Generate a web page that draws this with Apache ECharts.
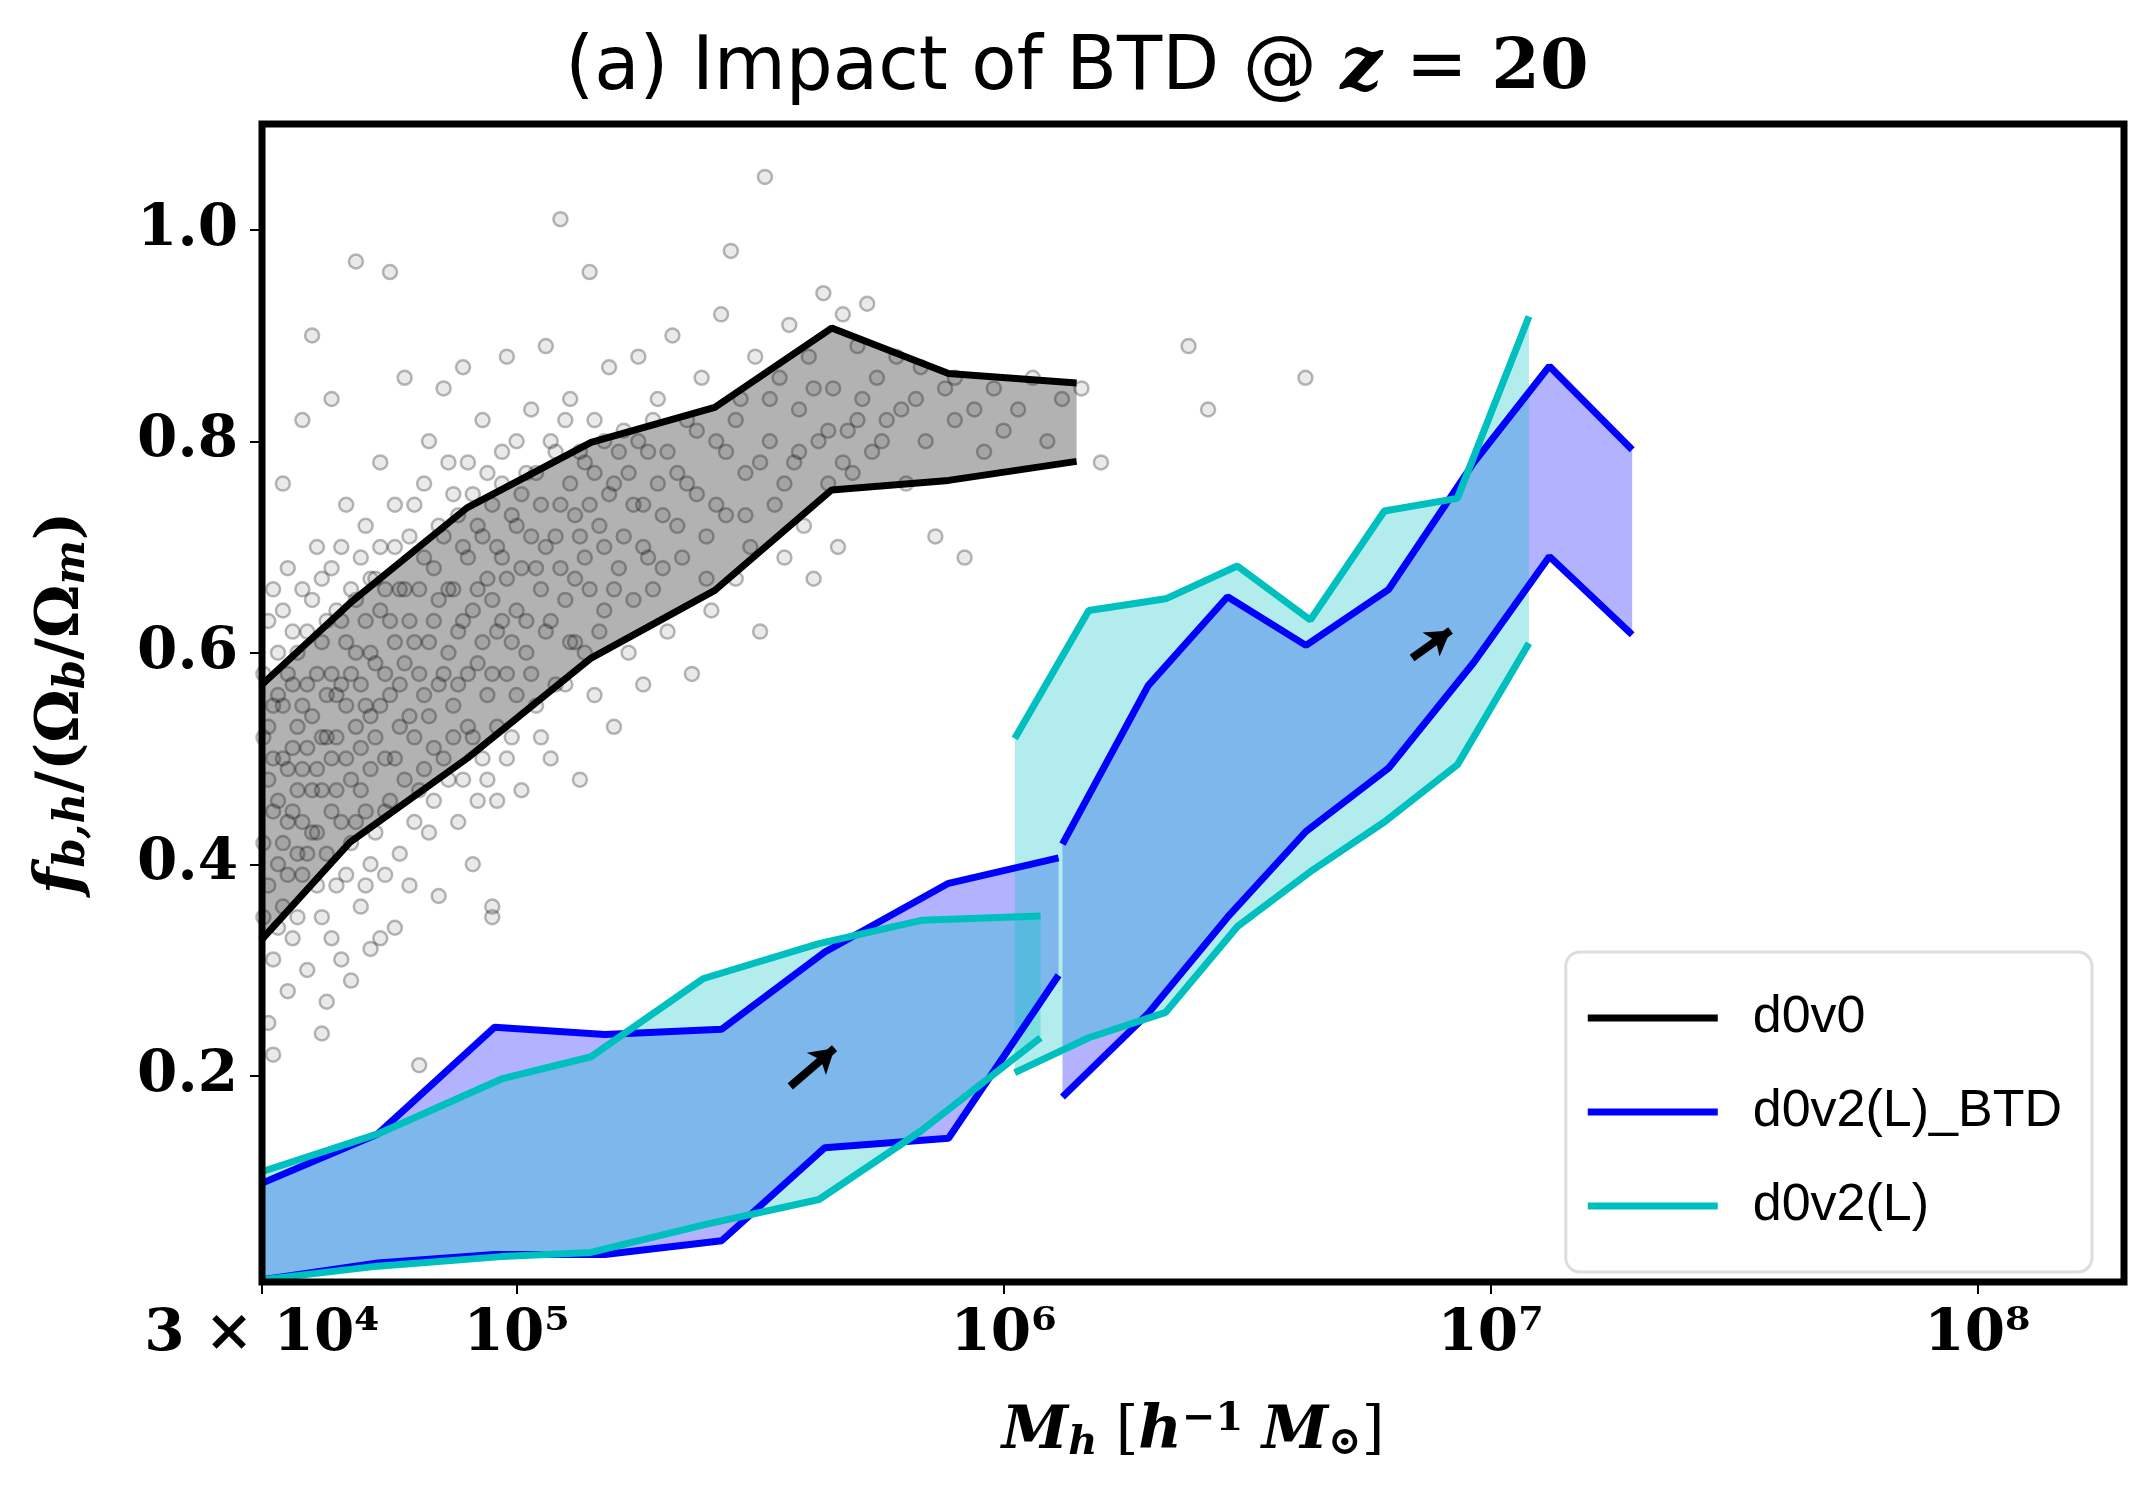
<!DOCTYPE html>
<html><head><meta charset="utf-8">
<script src="https://cdn.jsdelivr.net/npm/echarts@6/dist/echarts.min.js"></script>
<style>html,body{margin:0;padding:0;background:#fff}#c{width:2154px;height:1505px}</style>
</head><body><div id="c"></div>
<script>
// log10(M) values
const blackX = [4.475,4.658,4.898,5.153,5.407,5.647,5.887,6.150];
const blackUp = [0.569,0.647,0.737,0.799,0.832,0.907,0.864,0.855];
const blackLo = [0.328,0.421,0.500,0.595,0.659,0.754,0.763,0.781];
const blue1X = [4.475,4.715,4.955,5.181,5.421,5.633,5.887,6.113];
const blue1Up = [0.098,0.145,0.246,0.239,0.244,0.317,0.382,0.406];
const blue1Lo = [0.007,0.023,0.031,0.031,0.044,0.132,0.141,0.295];
const blue2X = [6.121,6.297,6.460,6.621,6.791,6.966,7.121,7.291];
const blue2Up = [0.419,0.569,0.653,0.607,0.660,0.780,0.871,0.792];
const blue2Lo = [0.180,0.259,0.350,0.431,0.491,0.591,0.691,0.617];
const cyan1X = [4.475,4.715,4.969,5.153,5.384,5.621,5.831,6.076];
const cyan1Up = [0.109,0.145,0.197,0.218,0.292,0.325,0.347,0.351];
const cyan1Lo = [0.007,0.020,0.029,0.033,0.059,0.083,0.148,0.236];
const cyan2X = [6.023,6.175,6.333,6.480,6.630,6.782,6.932,7.079];
const cyan2Up = [0.519,0.640,0.651,0.682,0.631,0.734,0.746,0.918];
const cyan2Lo = [0.203,0.236,0.260,0.341,0.393,0.440,0.494,0.609];
const scatterPts = [
[4.48,0.52],[4.49,0.48],[4.50,0.45],[4.50,0.55],[4.51,0.40],[4.51,0.60],[4.52,0.36],[4.52,0.50],[4.53,0.44],[4.53,0.58],
[4.54,0.33],[4.54,0.62],[4.55,0.47],[4.55,0.53],[4.56,0.39],[4.56,0.66],[4.57,0.30],[4.57,0.57],[4.58,0.43],[4.58,0.90],
[4.59,0.49],[4.59,0.70],[4.60,0.35],[4.60,0.61],[4.61,0.52],[4.61,0.27],[4.62,0.45],[4.62,0.68],[4.63,0.38],[4.63,0.56],
[4.64,0.63],[4.64,0.31],[4.65,0.50],[4.65,0.74],[4.66,0.42],[4.66,0.58],[4.67,0.97],[4.67,0.65],[4.68,0.47],[4.68,0.36],
[4.69,0.55],[4.69,0.72],[4.70,0.60],[4.70,0.40],[4.71,0.67],[4.71,0.52],[4.72,0.33],[4.72,0.78],[4.73,0.58],[4.73,0.45],
[4.74,0.96],[4.74,0.63],[4.75,0.50],[4.75,0.70],[4.76,0.41],[4.76,0.57],[4.77,0.66],[4.77,0.86],[4.78,0.54],[4.78,0.38],
[4.79,0.61],[4.79,0.74],[4.80,0.47],[4.80,0.21],[4.81,0.69],[4.81,0.56],[4.82,0.43],[4.82,0.80],[4.83,0.63],[4.83,0.51],
[4.84,0.72],[4.84,0.37],[4.85,0.58],[4.85,0.85],[4.86,0.66],[4.86,0.48],[4.87,0.75],[4.87,0.55],[4.88,0.62],[4.88,0.44],
[4.89,0.70],[4.89,0.87],[4.90,0.53],[4.90,0.78],[4.91,0.64],[4.91,0.40],[4.92,0.59],[4.92,0.72],[4.93,0.50],[4.93,0.82],
[4.94,0.67],[4.94,0.56],[4.95,0.36],[4.95,0.74],[4.96,0.62],[4.96,0.46],[4.97,0.79],[4.97,0.69],[4.98,0.58],[4.98,0.88],
[4.99,0.52],[5.00,0.72],[5.00,0.64],[5.01,0.47],[5.02,0.77],[5.02,0.60],[5.03,0.83],[5.04,0.68],[5.04,0.55],[5.05,0.74],
[5.06,0.62],[5.06,0.89],[5.07,0.50],[5.08,0.71],[5.08,0.79],[5.09,1.01],[5.10,0.65],[5.10,0.57],[5.11,0.84],[5.12,0.73],
[5.12,0.61],[5.13,0.48],[5.14,0.78],[5.14,0.69],[5.15,0.96],[5.16,0.56],[5.16,0.82],[5.17,0.72],[5.18,0.64],[5.19,0.87],
[5.20,0.76],[5.20,0.53],[5.21,0.68],[5.22,0.81],[5.23,0.60],[5.24,0.74],[5.25,0.88],[5.26,0.70],[5.26,0.57],[5.27,0.79],
[5.28,0.66],[5.29,0.84],[5.30,0.73],[5.31,0.62],[5.32,0.90],[5.33,0.77],[5.34,0.69],[5.35,0.82],[5.36,0.58],[5.37,0.75],
[5.38,0.86],[5.39,0.71],[5.40,0.64],[5.41,0.80],[5.42,0.92],[5.43,0.73],[5.44,0.98],[5.45,0.67],[5.46,0.84],[5.47,0.77],
[5.48,0.70],[5.49,0.88],[5.50,0.62],[5.51,1.05],[5.52,0.80],[5.53,0.74],[5.54,0.86],[5.55,0.69],[5.56,0.91],[5.57,0.78],
[5.58,0.83],[5.59,0.72],[5.60,0.88],[5.61,0.67],[5.62,0.80],[5.63,0.94],[5.64,0.76],[5.65,0.85],[5.66,0.70],[5.67,0.92],
[5.68,0.81],[5.69,0.77],[5.70,0.89],[5.71,0.84],[5.72,0.93],[5.73,0.79],[5.74,0.86],[5.76,0.82],[5.78,0.88],[5.80,0.76],
[5.82,0.84],[5.84,0.80],[5.86,0.71],[5.88,0.85],[5.90,0.82],[5.92,0.69],[5.94,0.83],[5.96,0.79],[5.98,0.85],[6.00,0.81],
[6.03,0.83],[6.06,0.86],[6.09,0.80],[6.12,0.84],[6.16,0.85],[6.20,0.78],[6.38,0.89],[6.42,0.83],[6.62,0.86],[4.95,0.35],
[4.50,0.22],[4.49,0.25],[4.53,0.28],[4.60,0.24],[4.66,0.29],[4.70,0.32],[4.75,0.34],[4.62,0.84],[4.56,0.82],[4.52,0.76],
[4.48,0.42],[4.48,0.58],[4.48,0.35],[4.49,0.63],[4.49,0.38],[4.49,0.53],[4.50,0.31],[4.50,0.66],[4.50,0.50],[4.51,0.46],
[4.51,0.56],[4.51,0.34],[4.52,0.42],[4.52,0.64],[4.52,0.55],[4.53,0.49],[4.53,0.39],[4.53,0.68],[4.54,0.51],[4.54,0.45],
[4.54,0.57],[4.55,0.41],[4.55,0.60],[4.55,0.35],[4.56,0.49],[4.56,0.55],[4.56,0.44],[4.57,0.62],[4.57,0.51],[4.57,0.41],
[4.58,0.54],[4.58,0.47],[4.58,0.65],[4.59,0.38],[4.59,0.58],[4.59,0.43],[4.60,0.52],[4.60,0.47],[4.60,0.67],[4.61,0.56],
[4.61,0.41],[4.61,0.63],[4.62,0.50],[4.62,0.58],[4.62,0.33],[4.63,0.47],[4.63,0.64],[4.63,0.52],[4.64,0.44],[4.64,0.57],
[4.64,0.70],[4.65,0.39],[4.65,0.61],[4.65,0.55],[4.66,0.48],[4.66,0.66],[4.67,0.53],[4.67,0.44],[4.67,0.60],[4.68,0.69],
[4.68,0.57],[4.68,0.51],[4.69,0.45],[4.69,0.63],[4.69,0.38],[4.70,0.54],[4.70,0.67],[4.70,0.49],[4.71,0.59],[4.71,0.43],
[4.72,0.64],[4.72,0.55],[4.72,0.70],[4.73,0.50],[4.73,0.66],[4.73,0.39],[4.74,0.56],[4.74,0.46],[4.75,0.61],[4.75,0.74],
[4.76,0.53],[4.76,0.66],[4.77,0.48],[4.77,0.59],[4.78,0.71],[4.78,0.63],[4.79,0.52],[4.79,0.44],[4.80,0.66],[4.80,0.58],
[4.81,0.49],[4.81,0.76],[4.82,0.61],[4.82,0.54],[4.83,0.68],[4.83,0.46],[4.84,0.57],[4.84,0.65],[4.85,0.50],[4.85,0.71],
[4.86,0.60],[4.86,0.78],[4.87,0.52],[4.87,0.66],[4.88,0.57],[4.88,0.73],[4.89,0.48],[4.89,0.63],[4.90,0.69],[4.90,0.58],
[4.91,0.75],[4.91,0.52],[4.92,0.66],[4.92,0.46],[4.93,0.61],[4.93,0.71],[4.94,0.77],[4.94,0.48],[4.95,0.65],[4.95,0.58],
[4.96,0.70],[4.96,0.53],[4.97,0.63],[4.97,0.76],[4.98,0.67],[4.98,0.50],[4.99,0.73],[4.99,0.61],[5.00,0.56],[5.00,0.80],
[5.01,0.68],[5.01,0.75],[5.02,0.63],[5.03,0.71],[5.03,0.58],[5.04,0.77],[5.05,0.66],[5.05,0.52],[5.06,0.70],[5.07,0.80],
[5.07,0.63],[5.08,0.57],[5.09,0.74],[5.09,0.68],[5.10,0.82],[5.11,0.61],[5.11,0.76],[5.12,0.67],[5.13,0.79],[5.13,0.71],
[5.14,0.60],[5.15,0.74],[5.15,0.66],[5.16,0.77],[5.17,0.62],[5.18,0.80],[5.18,0.70],[5.19,0.75],[5.20,0.66],[5.21,0.79],
[5.22,0.71],[5.23,0.77],[5.24,0.65],[5.25,0.80],[5.26,0.74],[5.27,0.69],[5.28,0.82],[5.29,0.76],[5.30,0.68],[5.31,0.79],
[5.33,0.72],[5.35,0.76],[5.37,0.81],[5.39,0.67],[5.41,0.74],[5.43,0.79],[5.45,0.82],[5.47,0.73],[5.50,0.78],[5.52,0.84],
[5.55,0.76],[5.58,0.79],[5.61,0.85],[5.64,0.81],[5.67,0.78],[5.70,0.82],[5.75,0.80],[5.79,0.83],[5.83,0.87],[5.90,0.86]
];
const arrows = [[[5.562,0.190],[5.653,0.226]],[[6.839,0.595],[6.918,0.621]]];
const xTicks = [3e4,1e5,1e6,1e7,1e8];
const yTicks = [0.2,0.4,0.6,0.8,1.0];

const pw = v => Math.pow(10, v);
const pairs = (xs, ys) => xs.map((x,i)=>[pw(x), ys[i]]);
function band(name, xs, up, lo, color, z) {
  const d = xs.map((x,i)=>[pw(x), up[i], lo[i]]);
  return {type:'custom', name: name+'_band', data:d, z:z, silent:true,
    encode:{x:0,y:[1,2]},
    renderItem:(params, api)=>{
      if (params.dataIndex !== 0) return;
      const pts = [];
      d.forEach(r=>pts.push(api.coord([r[0], r[1]])));
      for (let i=d.length-1;i>=0;i--) pts.push(api.coord([d[i][0], d[i][2]]));
      return {type:'polygon', shape:{points:pts}, style:{fill:color}};
    }};
}
function line(name, xs, ys, color, z) {
  return {type:'line', name:name, data:pairs(xs,ys), showSymbol:false, symbol:'none', z:z,
    lineStyle:{color:color, width:7}, itemStyle:{color:color}};
}
const sup = {'4':'⁴','5':'⁵','6':'⁶','7':'⁷','8':'⁸'};
const chart = echarts.init(document.getElementById('c'));
const serif = 'DejaVu Serif';
chart.setOption({
  animation:false,
  title:{text:'(a) Impact of BTD @ {i|z} = {b|20}', left:'center', top:28,
    textStyle:{fontFamily:'DejaVu Sans', fontSize:74, fontWeight:'normal', color:'#000',
      rich:{i:{fontFamily:serif, fontStyle:'italic', fontWeight:'bold', fontSize:74},
            b:{fontFamily:serif, fontWeight:'bold', fontSize:70}}}},
  grid:{left:262, right:30, top:124, bottom:223, show:true, borderColor:'#000', borderWidth:7, backgroundColor:'transparent', z:10},
  legend:{right:62, top:952, orient:'vertical', itemWidth:130, itemHeight:7, itemGap:42,
    padding:[40,30,40,22], backgroundColor:'#fff', borderColor:'#ddd', borderWidth:3, borderRadius:14,
    data:[{name:'d0v0',icon:'rect'},{name:'d0v2(L)_BTD',icon:'rect'},{name:'d0v2(L)',icon:'rect'}],
    textStyle:{fontFamily:'Liberation Sans', fontSize:52, color:'#000', padding:[0,0,0,30]}},
  xAxis:{type:'log', logBase:10, min:3e4, max:2e8,
    name:'{i|M}{s|h} [{i|h}{p|−1} {i|M}{s|⊙}]', nameLocation:'middle', nameGap:118,
    nameTextStyle:{fontFamily:serif, fontSize:58, color:'#000',
      rich:{i:{fontFamily:serif, fontStyle:'italic', fontWeight:'bold', fontSize:60},
            s:{fontFamily:serif, fontStyle:'italic', fontWeight:'bold', fontSize:40, verticalAlign:'bottom', padding:[22,0,0,0]},
            p:{fontFamily:serif, fontWeight:'bold', fontSize:40, verticalAlign:'top', padding:[0,0,24,0]}}},
    axisLine:{show:false}, splitLine:{show:false},
    axisTick:{show:true, length:12, lineStyle:{width:2,color:'#000'}, customValues:xTicks},
    minorTick:{show:false},
    axisLabel:{customValues:xTicks, margin:24, color:'#000', fontFamily:serif, fontWeight:'bold', fontSize:58,
      formatter:v=>{ if (Math.abs(v-3e4)<1) return '3 × 10⁴'; const e=Math.round(Math.log10(v)); return '10'+sup[e]; }}},
  yAxis:{type:'value', min:0.005, max:1.1,
    name:'{i|f}{s|b,h}/(Ω{s|b}/Ω{s|m})', nameLocation:'middle', nameGap:168, nameRotate:90,
    nameTextStyle:{fontFamily:serif, fontSize:60, fontWeight:'bold', color:'#000',
      rich:{i:{fontFamily:serif, fontStyle:'italic', fontWeight:'bold', fontSize:62},
            s:{fontFamily:serif, fontStyle:'italic', fontWeight:'bold', fontSize:42, verticalAlign:'bottom', padding:[22,0,0,0]}}},
    axisLine:{show:false}, splitLine:{show:false},
    axisTick:{show:true, length:12, lineStyle:{width:2,color:'#000'}, customValues:yTicks},
    axisLabel:{customValues:yTicks, margin:24, color:'#000', fontFamily:serif, fontWeight:'bold', fontSize:58,
      formatter:v=>v.toFixed(1)}},
  series:[
    {type:'scatter', name:'pts', data:scatterPts.map(p=>[pw(p[0]),p[1]]), symbolSize:14, z:1,
      itemStyle:{color:'rgba(0,0,0,0.1)', borderColor:'rgba(0,0,0,0.35)', borderWidth:2.5}},
    band('d0v0', blackX, blackUp, blackLo, 'rgba(0,0,0,0.3)', 2),
    band('b1', blue1X, blue1Up, blue1Lo, 'rgba(0,0,255,0.3)', 2),
    band('b2', blue2X, blue2Up, blue2Lo, 'rgba(0,0,255,0.3)', 2),
    band('c1', cyan1X, cyan1Up, cyan1Lo, 'rgba(0,191,191,0.3)', 3),
    band('c2', cyan2X, cyan2Up, cyan2Lo, 'rgba(0,191,191,0.3)', 3),
    line('d0v0', blackX, blackUp, '#000', 5), line('d0v0', blackX, blackLo, '#000', 5),
    line('d0v2(L)_BTD', blue1X, blue1Up, '#0000ff', 5), line('d0v2(L)_BTD', blue1X, blue1Lo, '#0000ff', 5),
    line('d0v2(L)_BTD', blue2X, blue2Up, '#0000ff', 5), line('d0v2(L)_BTD', blue2X, blue2Lo, '#0000ff', 5),
    line('d0v2(L)', cyan1X, cyan1Up, '#00bfbf', 6), line('d0v2(L)', cyan1X, cyan1Lo, '#00bfbf', 6),
    line('d0v2(L)', cyan2X, cyan2Up, '#00bfbf', 6), line('d0v2(L)', cyan2X, cyan2Lo, '#00bfbf', 6),
    {type:'line', name:'arrows', data:[], z:7, silent:true,
      markLine:{silent:true, symbol:['none','arrow'], symbolSize:[22,24], label:{show:false},
        lineStyle:{color:'#000', width:8, type:'solid'},
        data:arrows.map(a=>[{coord:[pw(a[0][0]),a[0][1]]},{coord:[pw(a[1][0]),a[1][1]]}])}}
  ]
});
</script></body></html>
